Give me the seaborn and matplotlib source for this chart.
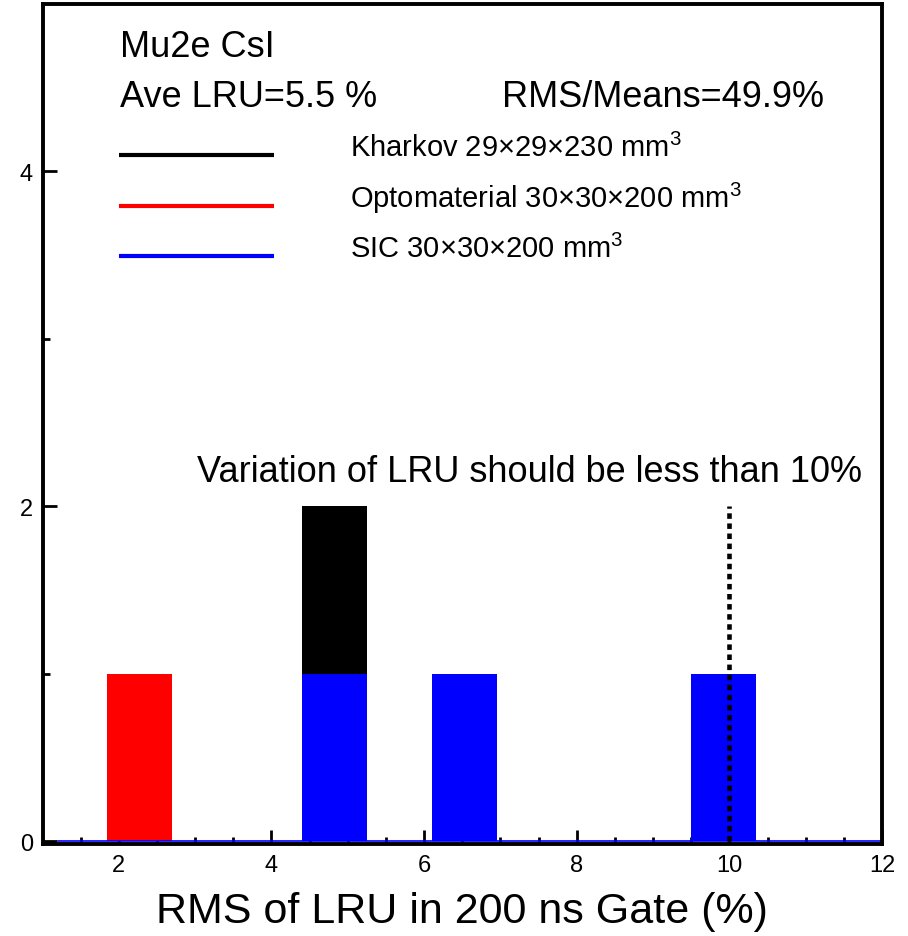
import numpy as np
import pandas as pd
import matplotlib
matplotlib.use("Agg")
import matplotlib.pyplot as plt
import seaborn as sns

# Light-response-uniformity RMS (%) of the tested CsI crystals, by vendor
kharkov_rms = [4.7]
optomaterial_rms = [2.1]
sic_rms = [4.8, 6.3, 9.6]

crystal_order = ["Kharkov", "Optomaterial", "SIC"]
crystal_labels = ["Kharkov 29×29×230 mm$^3$",
                  "Optomaterial 30×30×200 mm$^3$",
                  "SIC 30×30×200 mm$^3$"]
crystal_colors = ["#000000", "#ff0000", "#0000ff"]

bin_edges = np.arange(1.0, 12.06, 0.85)
x_major = [2, 4, 6, 8, 10, 12]
y_major = [0, 2, 4]
limit_rms = 10.0

df = pd.DataFrame({
    "rms": kharkov_rms + optomaterial_rms + sic_rms,
    "crystal": (["Kharkov"] * len(kharkov_rms)
                + ["Optomaterial"] * len(optomaterial_rms)
                + ["SIC"] * len(sic_rms)),
})

sns.set_style("white")
plt.rcParams["font.family"] = ["Liberation Sans", "DejaVu Sans"]
plt.rcParams["mathtext.fontset"] = "custom"
plt.rcParams["mathtext.rm"] = "Liberation Sans"
plt.rcParams["mathtext.it"] = "Liberation Sans"
plt.rcParams["mathtext.default"] = "regular"
plt.rcParams["text.color"] = "black"
plt.rcParams["axes.labelcolor"] = "black"
plt.rcParams["xtick.color"] = "black"
plt.rcParams["ytick.color"] = "black"

fig = plt.figure(figsize=(9.08, 9.37), dpi=100)
ax = fig.add_axes([42.5 / 908, 1 - 845 / 937, 839.5 / 908, 840 / 937])

sns.histplot(data=df, x="rms", hue="crystal", hue_order=crystal_order,
             palette=dict(zip(crystal_order, crystal_colors)),
             bins=bin_edges, multiple="stack", element="bars",
             alpha=1.0, linewidth=0, legend=False, ax=ax)

ax.set_xlim(1, 12)
ax.set_ylim(-0.015, 5)

# baseline of the histogram
ax.axhline(0, xmin=0.0185, xmax=1, color="#0000ff", lw=1.2, zorder=1)

# 10 % requirement
ax.vlines(limit_rms, 0, 2.0, colors="black", lw=3.3,
          linestyles=(0, (1.2, 1.0)), zorder=3)
ax.text(3.02, 2.152, "Variation of LRU should be less than 10%",
        fontsize=26, ha="left", va="baseline")

# header text
ax.text(0.0923, 0.938, "Mu2e CsI", transform=ax.transAxes,
        fontsize=26, ha="left", va="baseline")
ax.text(0.0923, 0.879, "Ave LRU=5.5 %", transform=ax.transAxes,
        fontsize=26, ha="left", va="baseline")
ax.text(0.5474, 0.879, "RMS/Means=49.9%", transform=ax.transAxes,
        fontsize=26, ha="left", va="baseline")

# key
key_y = [0.8202, 0.7595, 0.700]
for yk, lab, col in zip(key_y, crystal_labels, crystal_colors):
    ax.plot([0.0911, 0.2757], [yk, yk], color=col, lw=3,
            transform=ax.transAxes, solid_capstyle="butt")
    ax.text(0.3663, yk - 0.001, lab, transform=ax.transAxes,
            fontsize=21, ha="left", va="baseline")

ax.set_xticks(x_major)
ax.set_xticks(np.arange(1.5, 12, 0.5), minor=True)
ax.set_yticks(y_major)
ax.set_yticks([1, 3], minor=True)
ax.tick_params(which="both", direction="in", width=2, colors="black",
               bottom=True, left=True, top=False, right=False)
ax.tick_params(which="major", length=10, labelsize=17, pad=7)
ax.tick_params(which="minor", length=5)

ax.set_xlabel("RMS of LRU in 200 ns Gate (%)", fontsize=31, labelpad=11)
ax.set_ylabel("")

for s in ax.spines.values():
    s.set_visible(True)
    s.set_color("black")
    s.set_linewidth(2.8)
    s.set_zorder(4)

fig.savefig("out.png", dpi=100, facecolor="white")
